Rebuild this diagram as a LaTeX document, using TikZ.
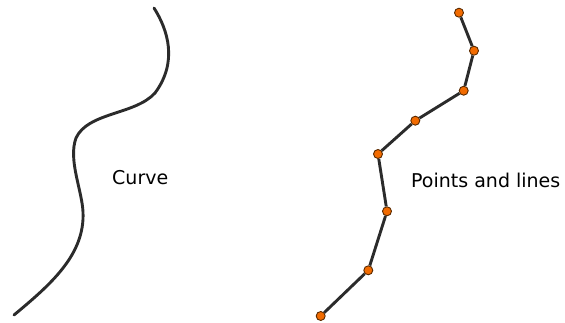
\documentclass[tikz,border=0pt]{standalone}
\usepackage{fontspec}
\setmainfont{DejaVu Sans}
\definecolor{linegray}{HTML}{2B2B2B}
\definecolor{dotorange}{HTML}{F26B00}
\definecolor{dotedge}{HTML}{5A2A00}
\begin{document}
\begin{tikzpicture}[x=1pt,y=-1pt,
  vertex/.style={circle,fill=dotorange,draw=dotedge,line width=0.9pt,inner sep=0pt,minimum size=9pt},
  seg/.style={draw=linegray,line width=2.9pt},
  lbl/.style={font=\fontsize{19}{22}\selectfont,inner sep=0pt,anchor=west}]
\useasboundingbox (0,0) rectangle (565,322);
\draw[seg,line cap=round] (154,8) .. controls (168,30) and (178,62) .. (155,93)
  .. controls (135,115) and (88,112) .. (76,138)
  .. controls (68,160) and (82,190) .. (83,212)
  .. controls (85,255) and (50,285) .. (14,315);
\node[lbl] (curve) at (112,178) {Curve};
\node[vertex] (v1) at (459,12.7) {};
\node[vertex] (v2) at (474,50.7) {};
\node[vertex] (v3) at (463.7,90.7) {};
\node[vertex] (v4) at (415.3,120.7) {};
\node[vertex] (v5) at (378,154) {};
\node[vertex] (v6) at (387,211.3) {};
\node[vertex] (v7) at (368.3,270.3) {};
\node[vertex] (v8) at (320.7,316) {};
\foreach \a/\b in {v1/v2,v2/v3,v3/v4,v4/v5,v5/v6,v6/v7,v7/v8}
  \draw[seg] (\a) -- (\b);
\node[lbl] (pl) at (411,180.5) {Points and lines};
\end{tikzpicture}
\end{document}
